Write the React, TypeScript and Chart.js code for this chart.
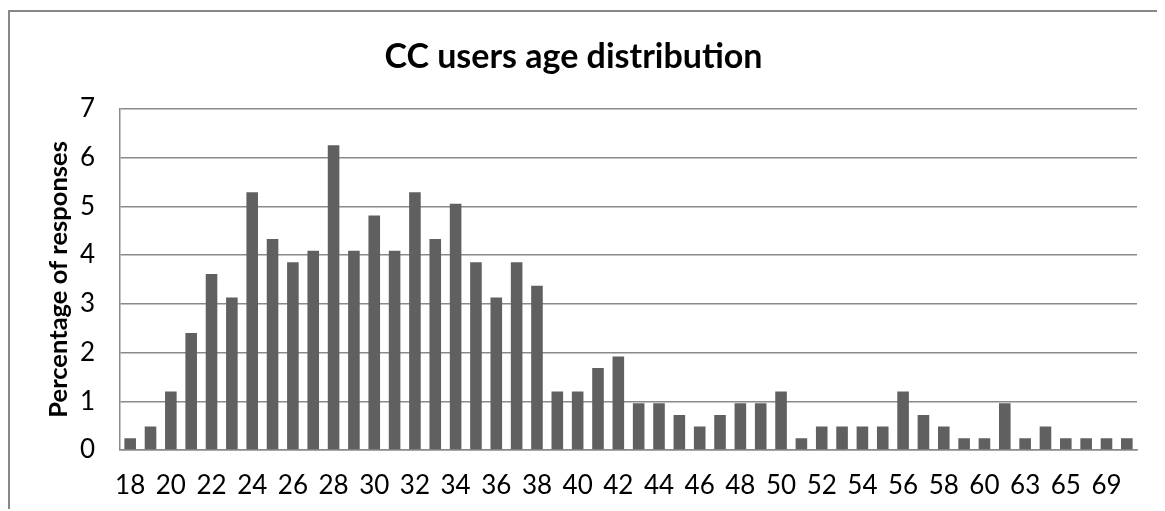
import React, { useEffect, useRef } from 'react';
import { Chart, registerables } from 'chart.js';

Chart.register(...registerables);

const TITLE = 'CC users age distribution';
const Y_TITLE = 'Percentage of responses';

const ages = [
  '18', '19', '20', '21', '22', '23', '24', '25', '26', '27',
  '28', '29', '30', '31', '32', '33', '34', '35', '36', '37',
  '38', '39', '40', '41', '42', '43', '44', '45', '46', '47',
  '48', '49', '50', '51', '52', '53', '54', '55', '56', '57',
  '58', '59', '60', '61', '63', '64', '65', '67', '69', '71',
];

const percentages = [
  0.24, 0.48, 1.2, 2.4, 3.61, 3.13, 5.29, 4.33, 3.85, 4.09,
  6.25, 4.09, 4.81, 4.09, 5.29, 4.33, 5.05, 3.85, 3.13, 3.85,
  3.37, 1.2, 1.2, 1.68, 1.92, 0.96, 0.96, 0.72, 0.48, 0.72,
  0.96, 0.96, 1.2, 0.24, 0.48, 0.48, 0.48, 0.48, 1.2, 0.72,
  0.48, 0.24, 0.24, 0.96, 0.24, 0.48, 0.24, 0.24, 0.24, 0.24,
];

const Y_MIN = 0;
const Y_MAX = 7;
const Y_STEP = 1;

const FONT = 'Lato, Carlito, Calibri, sans-serif';

export default function App() {
  const ref = useRef<HTMLCanvasElement>(null);

  useEffect(() => {
    document.documentElement.style.overflow = 'hidden';
    const chart = new Chart(ref.current as HTMLCanvasElement, {
      type: 'bar',
      data: {
        labels: ages,
        datasets: [
          {
            data: percentages,
            backgroundColor: '#606060',
            borderWidth: 0,
            barPercentage: 0.57,
            categoryPercentage: 1,
          },
        ],
      },
      options: {
        animation: false,
        responsive: true,
        maintainAspectRatio: false,
        layout: { padding: { left: 0, right: 28, top: 0, bottom: 0 } },
        plugins: {
          legend: { display: false },
          tooltip: { enabled: false },
          title: {
            display: true,
            text: TITLE,
            color: '#000',
            font: { family: FONT, size: 34, weight: 'bold' },
            padding: { top: 25, bottom: 31 },
          },
        },
        scales: {
          x: {
            grid: { display: false, drawTicks: false },
            border: { display: true, color: '#8a8a8a', width: 1.5 },
            ticks: {
              autoSkip: false,
              maxRotation: 0,
              minRotation: 0,
              padding: 20,
              color: '#000',
              font: { family: FONT, size: 26 },
              callback: (_v: any, i: number) => (i % 2 === 0 ? ages[i] : ''),
            },
            afterFit: (s: any) => {
              s.height = 61;
            },
          },
          y: {
            min: Y_MIN,
            max: Y_MAX,
            ticks: {
              stepSize: Y_STEP,
              padding: 25,
              color: '#000',
              font: { family: FONT, size: 26 },
            },
            grid: { color: '#8a8a8a', lineWidth: 1.5, drawTicks: false },
            border: { display: true, color: '#8a8a8a', width: 1.5 },
            title: {
              display: true,
              text: Y_TITLE,
              color: '#000',
              font: { family: FONT, size: 25.5, weight: 'bold' },
              padding: { top: 33, bottom: 0 },
            },
            afterFit: (s: any) => {
              s.width = 110;
            },
          },
        },
      },
    });
    return () => chart.destroy();
  }, []);

  return (
    <div
      style={{
        position: 'relative',
        top: 2,
        width: 1157,
        height: 501,
        borderLeft: '2px solid #878787',
        borderTop: '2px solid #878787',
        boxSizing: 'border-box',
      }}
    >
      <div style={{ position: 'absolute', left: 0, top: 0, width: 1155, height: 499 }}>
        <canvas ref={ref} />
      </div>
    </div>
  );
}
